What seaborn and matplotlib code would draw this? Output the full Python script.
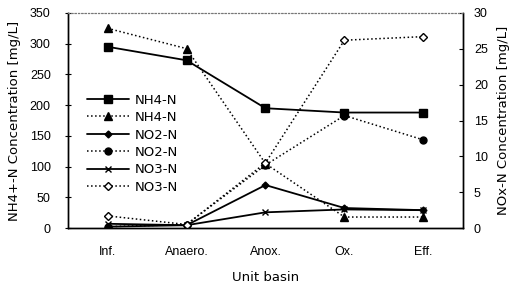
import numpy as np
import pandas as pd
import matplotlib
matplotlib.use("Agg")
import matplotlib.pyplot as plt
import seaborn as sns
from matplotlib.ticker import FixedLocator

categories = ["Inf.", "Anaero.", "Anox.", "Ox.", "Eff."]
nh4_solid = [295, 273, 195, 188, 188]
nh4_dotted = [325, 292, 105, 18, 18]
no2_solid = [0.2, 0.4, 6.0, 2.8, 2.5]
no2_dotted = [0.2, 0.5, 8.8, 15.7, 12.3]
no3_solid = [0.6, 0.4, 2.2, 2.6, 2.5]
no3_dotted = [1.7, 0.5, 9.1, 26.2, 26.7]
left_ticks = [0, 50, 100, 150, 200, 250, 300, 350]
right_ticks = [0, 5, 10, 15, 20, 25, 30]

sns.set_theme(style="white")
plt.rcParams['font.family'] = ['Liberation Sans', 'DejaVu Sans']
plt.rcParams.update({"text.color": "black", "axes.labelcolor": "black",
                     "xtick.color": "black", "ytick.color": "black"})
label_font = ['DejaVu Sans']

pos = np.arange(len(categories))

fig = plt.figure(figsize=(5.12, 2.88), dpi=100)
ax = fig.add_axes([0.133, 0.208, 0.771, 0.747])
ax2 = ax.twinx()

def draw(a, vals, ls, marker, ms, mfc, label):
    df = pd.DataFrame({"x": pos, "y": vals})
    sns.lineplot(data=df, x="x", y="y", ax=a, color="black", linestyle=ls,
                 linewidth=1.3 if ls == "-" else 1.1, marker=marker, markersize=ms,
                 markerfacecolor=mfc, markeredgecolor="black", markeredgewidth=1.0,
                 label=label, legend=False, sort=False)

draw(ax, nh4_solid, "-", "s", 5.5, "black", "NH4-N")
draw(ax, nh4_dotted, ":", "^", 5.5, "black", "NH4-N")
draw(ax2, no2_solid, "-", "D", 3.5, "black", "NO2-N")
draw(ax2, no2_dotted, ":", "o", 5, "black", "NO2-N")
draw(ax2, no3_solid, "-", "x", 5, "black", "NO3-N")
draw(ax2, no3_dotted, ":", "D", 3.8, "white", "NO3-N")

ax.set_xlim(-0.5, len(categories) - 0.5)
ax.set_ylim(0, 350)
ax2.set_ylim(0, 30)
ax.set_xticks(pos)
ax.set_xticklabels(categories)
ax.xaxis.set_minor_locator(FixedLocator(pos[:-1] + 0.5))
ax.tick_params(axis="x", which="major", length=0, labelsize=9, pad=13, labelcolor="black")
ax.tick_params(axis="x", which="minor", length=3, direction="in", width=0.8, color="black")
ax.set_yticks(left_ticks)
ax2.set_yticks(right_ticks)
ax.tick_params(axis="y", length=4, direction="inout", labelsize=9, width=0.8,
               color="black", labelcolor="black", left=True, pad=10.5)
ax2.tick_params(axis="y", length=3, direction="in", labelsize=9, width=0.8,
                color="black", labelcolor="black", right=True, pad=8)

ax.set_xlabel("Unit basin", fontsize=9.5, labelpad=9, family=label_font, color="black")
ax.set_ylabel("NH4+-N Concentration [mg/L]", fontsize=9.5, labelpad=6,
              family=label_font, color="black")
ax2.set_ylabel("NOx-N Concentration [mg/L]", fontsize=9.5, labelpad=6.5,
               family=label_font, color="black")

for a in (ax, ax2):
    for s in ("left", "right", "bottom"):
        a.spines[s].set_color("black")
        a.spines[s].set_linewidth(1.0)
    a.spines["top"].set_color("#777777")
    a.spines["top"].set_linestyle((0, (1, 2)))
    a.spines["top"].set_linewidth(0.8)

h1, l1 = ax.get_legend_handles_labels()
h2, l2 = ax2.get_legend_handles_labels()
leg = ax2.legend(h1 + h2, l1 + l2, loc="upper left", bbox_to_anchor=(0.035, 0.65),
                 frameon=False, prop={"family": label_font, "size": 9.5},
                 handlelength=3.2, handletextpad=0.4, labelspacing=0.34, borderaxespad=0)
for t in leg.get_texts():
    t.set_color("black")

fig.savefig("out.png", dpi=100)
